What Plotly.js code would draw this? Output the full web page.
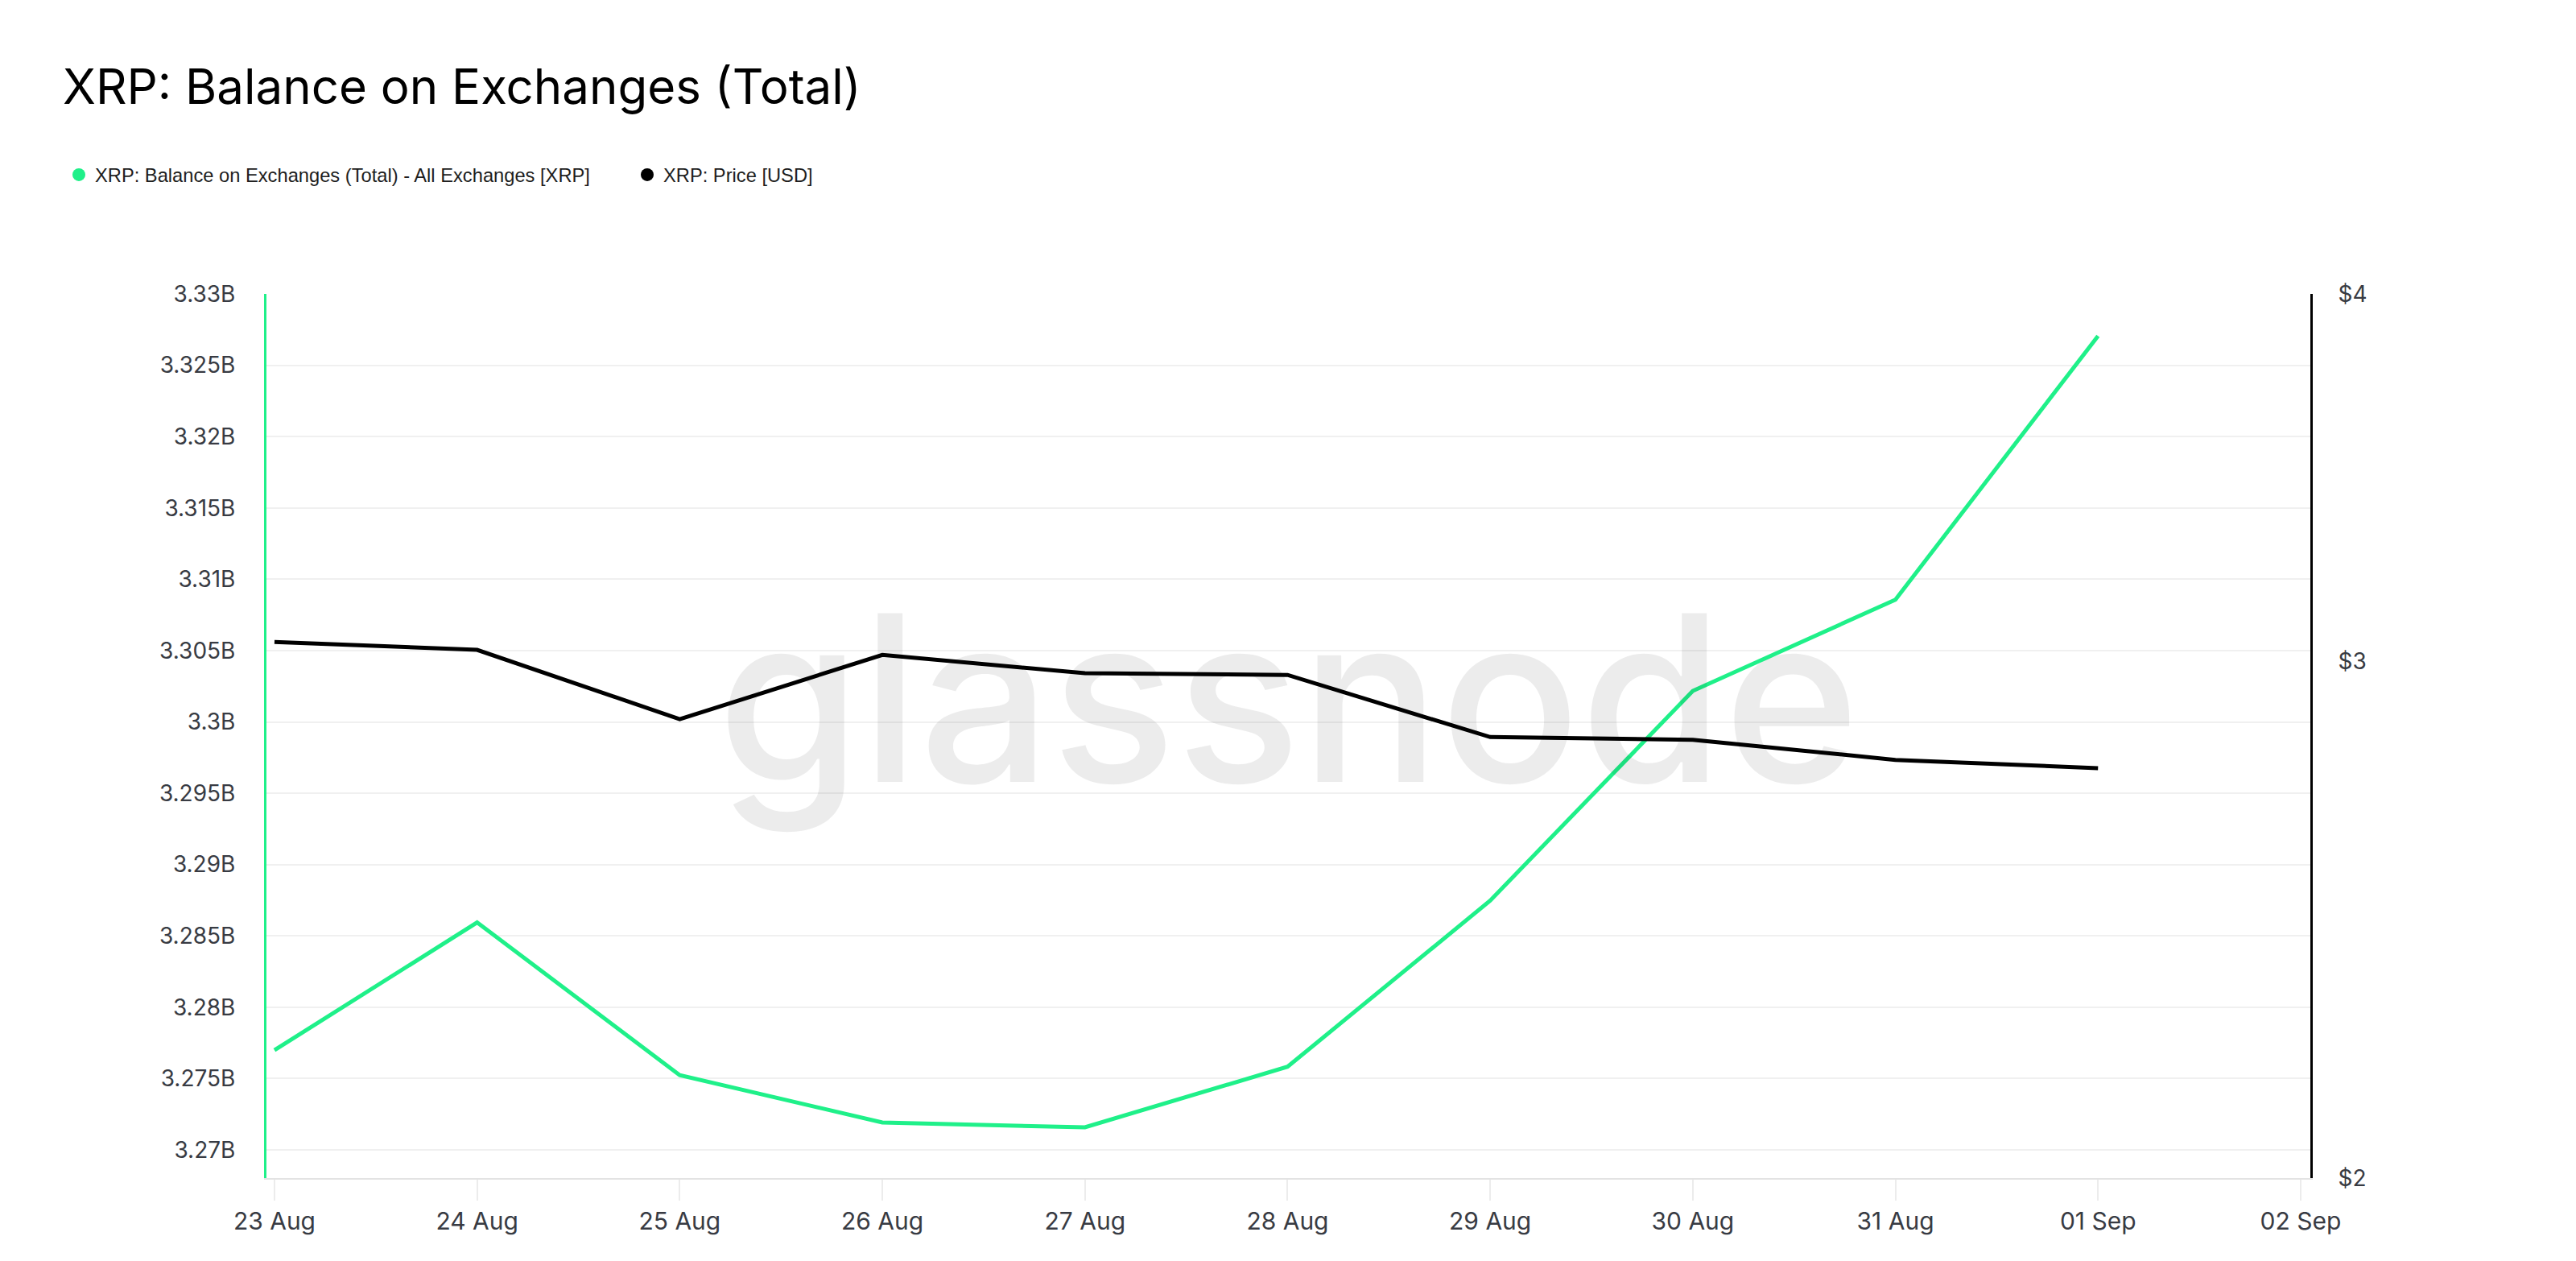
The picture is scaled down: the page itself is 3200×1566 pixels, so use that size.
<!DOCTYPE html>
<html>
<head>
<meta charset="utf-8">
<script src="https://cdn.plot.ly/plotly-3.0.1.min.js"></script>
<style>
html,body{margin:0;padding:0;background:#ffffff;}
#chart{width:3200px;height:1566px;}
</style>
</head>
<body>
<div id="chart"></div>
<script>
// ---- data ----
const dates = ['2025-08-23','2025-08-24','2025-08-25','2025-08-26','2025-08-27','2025-08-28','2025-08-29','2025-08-30','2025-08-31','2025-09-01'];
const balanceXRP = [3.27699e9, 3.28594e9, 3.27524e9, 3.27192e9, 3.27158e9, 3.27583e9, 3.28747e9, 3.30217e9, 3.30857e9, 3.32705e9];
const priceUSD = [3.045, 3.026, 2.866, 3.014, 2.971, 2.967, 2.826, 2.820, 2.776, 2.758];
const leftTickVals = [3.27e9, 3.275e9, 3.28e9, 3.285e9, 3.29e9, 3.295e9, 3.30e9, 3.305e9, 3.31e9, 3.315e9, 3.32e9, 3.325e9, 3.33e9];
const leftTickText = ['3.27B','3.275B','3.28B','3.285B','3.29B','3.295B','3.3B','3.305B','3.31B','3.315B','3.32B','3.325B','3.33B'];
const rightTickVals = [2, 3, 4];
const rightTickText = ['$2', '$3', '$4'];
const seriesNames = ['XRP: Balance on Exchanges (Total) - All Exchanges [XRP]', 'XRP: Price [USD]'];
const titleText = 'XRP: Balance on Exchanges (Total)';

// ---- styles ----
const GREEN = '#1ff089';
const BLACK = '#000000';
const TICK_COLOR = '#383b43';

const W = 3200, H = 1566;
const plotL = 331, plotR = 2870, plotT = 365, plotB = 1463;
const plotW = plotR - plotL, plotH = plotB - plotT;

const traces = [
  {x: dates, y: balanceXRP, type: 'scatter', mode: 'lines', name: seriesNames[0],
   line: {color: GREEN, width: 5}, yaxis: 'y', showlegend: false, hoverinfo: 'skip'},
  {x: dates, y: priceUSD, type: 'scatter', mode: 'lines', name: seriesNames[1],
   line: {color: BLACK, width: 5}, yaxis: 'y2', showlegend: false, hoverinfo: 'skip'},
  // legend entries (dots)
  {x: [null], y: [null], type: 'scatter', mode: 'markers', name: seriesNames[0],
   marker: {color: GREEN, size: 16}, yaxis: 'y', showlegend: true},
  {x: [null], y: [null], type: 'scatter', mode: 'markers', name: seriesNames[1],
   marker: {color: BLACK, size: 16}, yaxis: 'y2', showlegend: true}
];

const layout = {
  width: W, height: H,
  paper_bgcolor: '#ffffff', plot_bgcolor: '#ffffff',
  margin: {l: plotL, r: W - plotR, t: plotT, b: H - plotB, pad: 0},
  font: {family: 'Inter, "Liberation Sans", sans-serif', color: TICK_COLOR},
  title: {
    text: titleText,
    x: 78 / W, xanchor: 'left', xref: 'container',
    y: 1 - 108 / H, yanchor: 'middle', yref: 'container',
    font: {family: 'Inter, "Liberation Sans", sans-serif', size: 60, color: '#000000'}
  },
  showlegend: true,
  legend: {
    orientation: 'h',
    x: (78 - plotL) / plotW, xanchor: 'left',
    y: (plotB - 217) / plotH, yanchor: 'middle',
    font: {family: '"Liberation Sans", Arial, sans-serif', size: 23.7, color: '#1e1e1e'},
    itemwidth: 30,
    entrywidth: 661, entrywidthmode: 'pixels',
    bgcolor: 'rgba(0,0,0,0)'
  },
  xaxis: {
    type: 'date',
    range: ['2025-08-22 23:03', '2025-09-02 01:09'],
    tick0: '2025-08-23', dtick: 86400000,
    tickformat: '%d %b',
    showgrid: false, zeroline: false,
    showline: true, linecolor: '#e3e3e3', linewidth: 2,
    ticks: 'outside', ticklen: 26, tickwidth: 2, tickcolor: '#ececec',
    tickfont: {family: 'Inter, sans-serif', size: 30, color: TICK_COLOR},
    fixedrange: true
  },
  yaxis: {
    range: [3.268024e9, 3.33e9],
    tickvals: leftTickVals, ticktext: leftTickText,
    showgrid: true, gridcolor: '#f0f0f0', gridwidth: 2,
    zeroline: false,
    showline: true, linecolor: GREEN, linewidth: 3,
    ticks: '', ticklabelstandoff: 30,
    tickfont: {family: 'Inter, sans-serif', size: 28, color: TICK_COLOR},
    fixedrange: true
  },
  yaxis2: {
    type: 'log',
    range: [Math.log10(2), Math.log10(4)],
    overlaying: 'y', side: 'right',
    tickvals: rightTickVals, ticktext: rightTickText,
    showgrid: false, zeroline: false,
    showline: true, linecolor: BLACK, linewidth: 3,
    ticks: '', ticklabelstandoff: 26,
    tickfont: {family: 'Inter, sans-serif', size: 28, color: TICK_COLOR},
    fixedrange: true
  },
  annotations: [{
    text: 'glassnode', xref: 'paper', yref: 'paper',
    x: 0.5, xanchor: 'center', y: (plotB - 866) / plotH, yanchor: 'middle',
    showarrow: false,
    font: {family: 'Inter, sans-serif', size: 288, weight: 500, color: 'rgba(0,0,0,0.075)'}
  }]
};

Plotly.newPlot('chart', traces, layout, {displayModeBar: false, staticPlot: true});
</script>
</body>
</html>
